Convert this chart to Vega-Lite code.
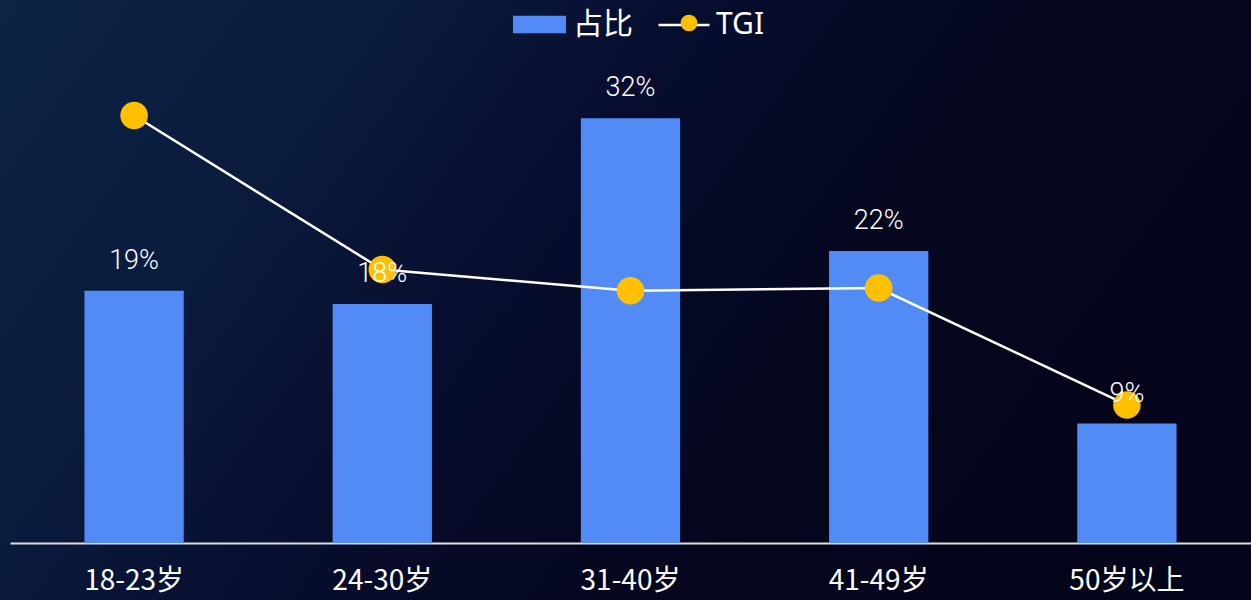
{
  "$schema": "https://vega.github.io/schema/vega-lite/v6.json",
  "width": 1251,
  "height": 600,
  "padding": 0,
  "autosize": {"type": "none"},
  "background": "#05061d",
  "view": {
    "stroke": null,
    "fill": {
      "gradient": "linear",
      "x1": 0, "y1": 0, "x2": 1, "y2": 0.35,
      "stops": [
        {"offset": 0, "color": "#0c2545"},
        {"offset": 0.3, "color": "#0a1a3c"},
        {"offset": 0.5, "color": "#070d2e"},
        {"offset": 0.75, "color": "#05071f"},
        {"offset": 1, "color": "#04051b"}
      ]
    }
  },
  "config": {"font": "Noto Sans CJK SC"},
  "data": {
    "values": [
      {"age": "18-23岁", "pct": 0.19, "tgi": 161},
      {"age": "24-30岁", "pct": 0.18, "tgi": 103},
      {"age": "31-40岁", "pct": 0.32, "tgi": 95},
      {"age": "41-49岁", "pct": 0.22, "tgi": 96},
      {"age": "50岁以上", "pct": 0.09, "tgi": 52}
    ]
  },
  "encoding": {
    "x": {
      "field": "age",
      "type": "nominal",
      "sort": null,
      "scale": {"range": [10, 1251], "paddingInner": 0.6, "paddingOuter": 0.3},
      "axis": {
        "title": null,
        "offset": -57,
        "labelAngle": 0,
        "ticks": false,
        "tickSize": 0,
        "domainColor": "#dddddd",
        "domainWidth": 2,
        "labelFont": "Noto Sans CJK SC",
        "labelFontSize": 28,
        "labelColor": "#ffffff",
        "labelBaseline": "middle",
        "labelPadding": 38
      }
    }
  },
  "layer": [
    {
      "mark": {"type": "bar"},
      "encoding": {
        "y": {"field": "pct", "type": "quantitative", "scale": {"domain": [0, 0.4], "range": [543, 12]}, "axis": null},
        "color": {
          "datum": "占比",
          "scale": {"range": ["#528BF5"]},
          "legend": {
            "orient": "none",
            "legendX": 513,
            "legendY": -2,
            "title": null,
            "padding": 0,
            "symbolType": "M-1,-0.33H1V0.33H-1Z",
            "symbolSize": 2809,
            "symbolStrokeWidth": 0,
            "labelFont": "Noto Sans CJK SC",
            "labelFontSize": 30,
            "labelColor": "#ffffff",
            "labelOffset": 7
          }
        }
      }
    },
    {
      "mark": {"type": "line", "strokeWidth": 2.5},
      "encoding": {
        "y": {"field": "tgi", "type": "quantitative", "scale": {"domain": [0, 200], "range": [543, 12]}, "axis": null},
        "stroke": {
          "datum": "TGI",
          "scale": {"range": ["#ffffff"]},
          "legend": {
            "orient": "none",
            "legendX": 657,
            "legendY": -2,
            "title": null,
            "padding": 0,
            "symbolType": "stroke",
            "symbolSize": 2601,
            "symbolStrokeWidth": 2.5,
            "labelFont": "Noto Sans",
            "labelFontSize": 30,
            "labelColor": "#ffffff",
            "labelOffset": 5
          }
        }
      }
    },
    {
      "mark": {"type": "point", "filled": true, "opacity": 1, "size": 760},
      "encoding": {
        "y": {"field": "tgi", "type": "quantitative", "scale": {"domain": [0, 200], "range": [543, 12]}, "axis": null},
        "fill": {
          "datum": "TGI点",
          "scale": {"range": ["#FFC000"]},
          "legend": {
            "orient": "none",
            "legendX": 674,
            "legendY": 8,
            "title": null,
            "padding": 0,
            "symbolType": "circle",
            "symbolSize": 280,
            "symbolStrokeWidth": 0,
            "symbolOpacity": 1,
            "labelFontSize": 30,
            "labelExpr": "''"
          }
        }
      }
    },
    {
      "mark": {"type": "text", "baseline": "alphabetic", "dy": -22, "fontSize": 27, "fontWeight": 300, "color": "#ffffff", "font": "Roboto"},
      "encoding": {
        "y": {"field": "pct", "type": "quantitative", "scale": {"domain": [0, 0.4], "range": [543, 12]}, "axis": null},
        "text": {"field": "pct", "type": "quantitative", "format": ".0%"}
      }
    }
  ],
  "resolve": {"scale": {"y": "independent"}}
}
